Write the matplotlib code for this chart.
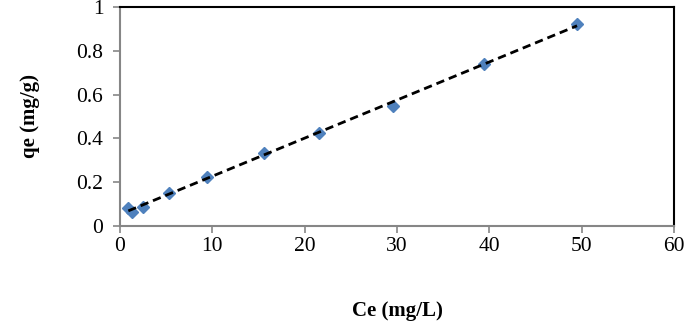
import numpy as np
import matplotlib
matplotlib.use("Agg")
import matplotlib.pyplot as plt

ce = [0.9, 1.27, 2.45, 5.3, 9.4, 15.6, 21.6, 29.6, 39.4, 49.5]
qe = [0.081, 0.065, 0.088, 0.149, 0.225, 0.333, 0.426, 0.549, 0.740, 0.922]
xticks = [0, 10, 20, 30, 40, 50, 60]
yticks = [0, 0.2, 0.4, 0.6, 0.8, 1]
ytick_labels = ["0", "0.2", "0.4", "0.6", "0.8", "1"]

plt.rcParams['font.family'] = ['Liberation Serif', 'DejaVu Serif']

fig = plt.figure(figsize=(6.85, 3.23), dpi=100)
ax = fig.add_axes([120/685, 97/323, 554/685, 219/323])

# linear trend line
coef = np.polyfit(ce, qe, 1)
xs = np.array([min(ce), max(ce)])
ax.plot(ce, qe, linestyle='none', marker='D', markersize=6, color='#4F81BD',
        markeredgecolor='#4F81BD', zorder=3)
ax.plot(xs, np.polyval(coef, xs), linestyle=(0, (3, 1.8)), color='black', lw=2, zorder=4)

ax.set_xlim(0, 60)
ax.set_ylim(0, 1)
ax.set_xticks(xticks)
ax.set_yticks(yticks)
ax.set_yticklabels(ytick_labels)
ax.tick_params(axis='both', labelsize=15.5, color='#868686', length=5, width=1.2)
ax.tick_params(axis='x', pad=3)
ax.tick_params(axis='y', pad=7)
for s in ['left', 'bottom']:
    ax.spines[s].set_color('#868686')
    ax.spines[s].set_linewidth(1.5)
for s in ['top', 'right']:
    ax.spines[s].set_color('black')
    ax.spines[s].set_linewidth(1.5)

ax.set_xlabel('Ce (mg/L)', fontsize=15, fontweight='bold', labelpad=32)
ax.set_ylabel('qe (mg/g)', fontsize=15, fontweight='bold', labelpad=26)

fig.savefig('out.png', dpi=100)
